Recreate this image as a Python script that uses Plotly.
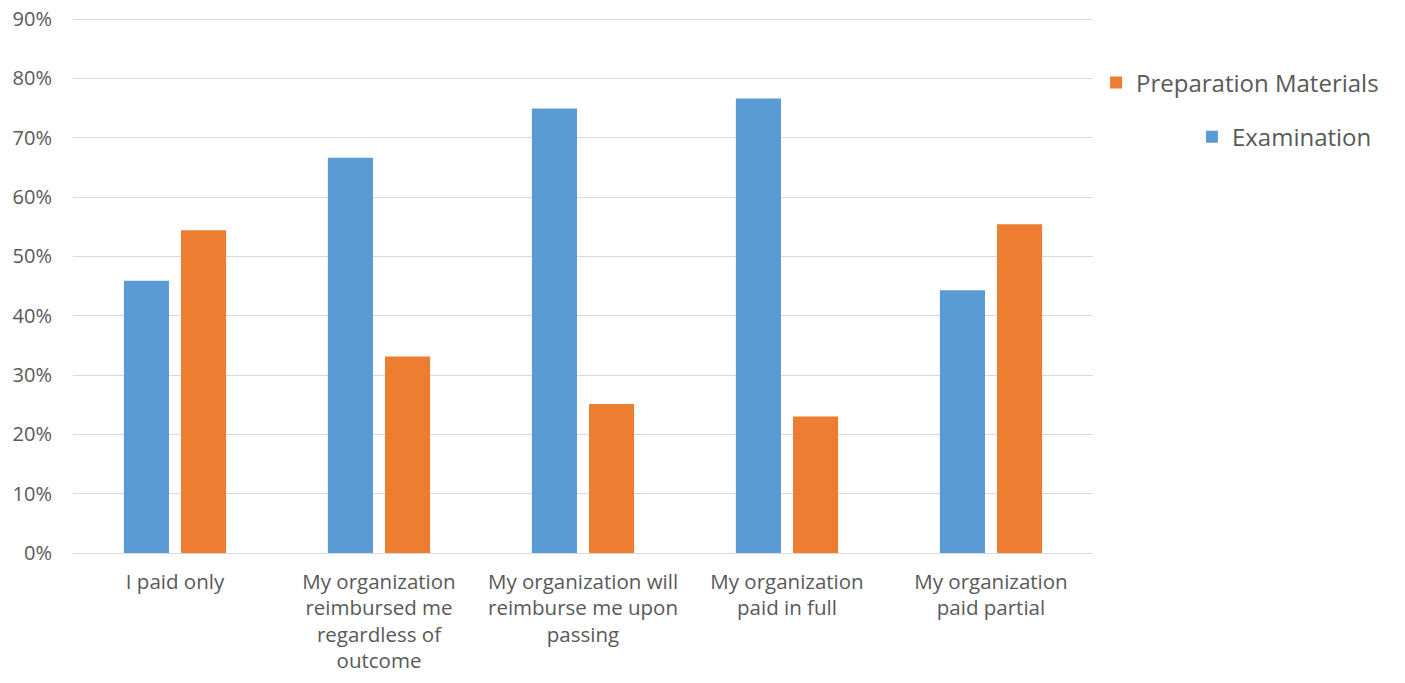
import plotly.graph_objects as go

categories = [
    "I paid only",
    "My organization<br>reimbursed me<br>regardless of<br>outcome",
    "My organization will<br>reimburse me upon<br>passing",
    "My organization<br>paid in full",
    "My organization<br>paid partial",
]
examination = [0.459, 0.666, 0.749, 0.766, 0.443]
preparation = [0.544, 0.331, 0.251, 0.230, 0.554]

FONT = "Open Sans"
GRAY = "#595959"

fig = go.Figure()
fig.add_trace(go.Bar(
    x=categories, y=examination, name="Examination",
    marker=dict(color="#5B9BD5", line=dict(width=0)),
    legend="legend2",
))
fig.add_trace(go.Bar(
    x=categories, y=preparation, name="Preparation Materials",
    marker=dict(color="#ED7D31", line=dict(width=0)),
    legend="legend",
))

fig.update_layout(
    width=1405, height=683,
    margin=dict(l=73, r=312, t=17, b=130, autoexpand=False),
    paper_bgcolor="white", plot_bgcolor="white",
    barmode="group", bargap=0.44, bargroupgap=0.21,
    font=dict(family=FONT, color=GRAY, size=20),
    showlegend=True,
    legend=dict(x=1.003, y=0.877, xanchor="left", yanchor="middle",
                font=dict(size=24, color=GRAY, family=FONT),
                itemwidth=30, bgcolor="rgba(0,0,0,0)"),
    legend2=dict(x=1.097, y=0.776, xanchor="left", yanchor="middle",
                 font=dict(size=24, color=GRAY, family=FONT),
                 itemwidth=30, bgcolor="rgba(0,0,0,0)"),
    xaxis=dict(showgrid=False, showline=False, ticks="", automargin=False,
               ticklabelstandoff=14,
               tickfont=dict(size=20.5, color=GRAY, family=FONT)),
    yaxis=dict(range=[0, 0.9034], tickvals=[0, 0.1, 0.2, 0.3, 0.4, 0.5, 0.6, 0.7, 0.8, 0.9],
               tickformat=".0%", automargin=False,
               showgrid=True, gridcolor="#D9D9D9", gridwidth=1,
               zeroline=True, zerolinecolor="#D9D9D9", zerolinewidth=1,
               showline=False, ticks="", ticklabelstandoff=20,
               tickfont=dict(size=20, color=GRAY, family=FONT)),
)

fig.write_html("out.html")
